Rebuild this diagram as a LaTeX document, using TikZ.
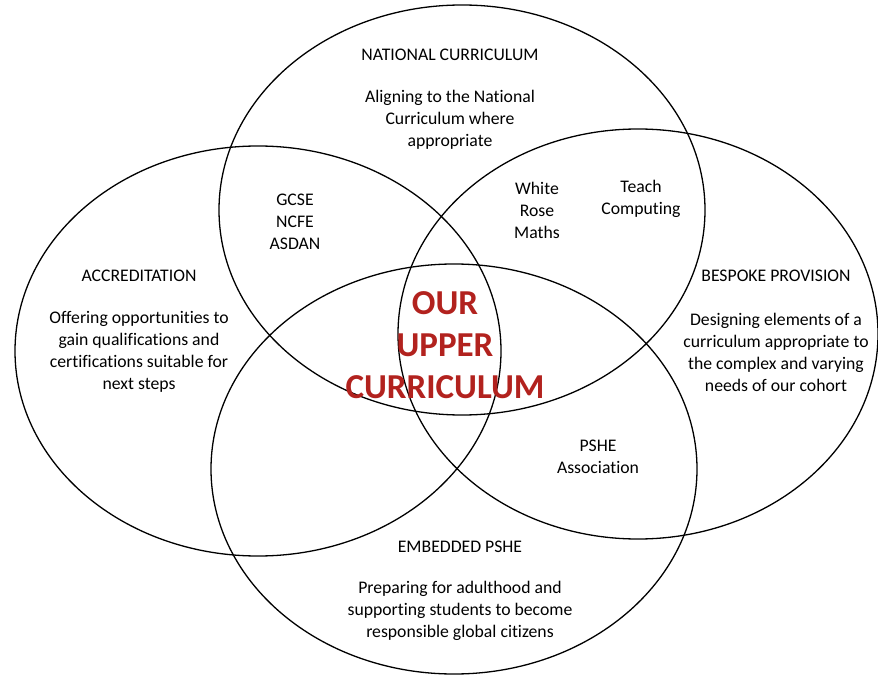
\documentclass[tikz,border=0pt]{standalone}
\usepackage{fontspec}
\setmainfont[Ligatures=NoCommon]{Carlito}
\definecolor{curred}{RGB}{178,34,30}
\begin{document}
\begin{tikzpicture}[x=1pt,y=-1pt,
    ring/.style={line width=1.3pt},
    txt/.style={align=center,inner sep=0pt,font=\fontsize{17.7}{22}\selectfont},
    core/.style={align=center,inner sep=0pt,text=curred,
      font=\bfseries\fontsize{35}{42}\selectfont}]
  \useasboundingbox (0,0) rectangle (878,676);

  % The four circles
  \draw[ring] (462,210) ellipse [x radius=243pt, y radius=205pt];
  \draw[ring] (258,351) ellipse [x radius=243pt, y radius=205pt];
  \draw[ring] (638,334) ellipse [x radius=240pt, y radius=205pt];
  \draw[ring] (454,469) ellipse [x radius=243pt, y radius=205pt];

  % Headings and descriptions
  \node[txt] (natTitle) at (450,55) {NATIONAL CURRICULUM};
  \node[txt] (natText) at (450,120) {Aligning to the National\\Curriculum where\\appropriate};
  \node[txt] (accTitle) at (139,276) {ACCREDITATION};
  \node[txt] (accText) at (139,352) {Offering opportunities to\\gain qualifications and\\certifications suitable for\\next steps};
  \node[txt] (bespTitle) at (776,276) {BESPOKE PROVISION};
  \node[txt] (bespText) at (776,352) {Designing elements of a\\curriculum appropriate to\\the complex and varying\\needs of our cohort};
  \node[txt] (psheTitle) at (460,547) {EMBEDDED PSHE};
  \node[txt] (psheText) at (460,611) {Preparing for adulthood and\\supporting students to become\\responsible global citizens};

  % Overlaps
  \node[txt] (quals) at (295,222) {GCSE\\NCFE\\ASDAN};
  \node[txt] (maths) at (537,210) {White\\Rose\\Maths};
  \node[txt] (computing) at (641,199) {Teach\\Computing};
  \node[txt] (assoc) at (598,457) {PSHE\\Association};

  % Middle
  \node[core] (centre) at (445,345) {OUR\\UPPER\\CURRICULUM};
\end{tikzpicture}
\end{document}
